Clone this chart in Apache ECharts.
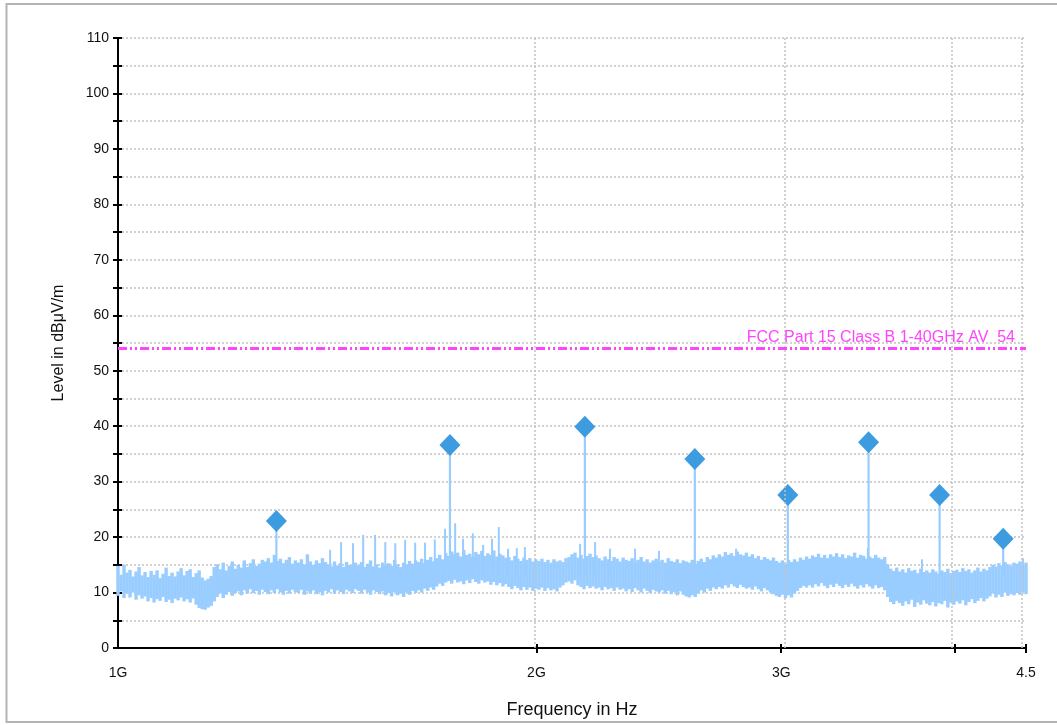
<!DOCTYPE html>
<html>
<head>
<meta charset="utf-8">
<script src="https://cdn.jsdelivr.net/npm/echarts@6/dist/echarts.min.js"></script>
<style>
  html, body { margin: 0; padding: 0; background: #ffffff; }
  #chart { width: 1057px; height: 725px; }
</style>
</head>
<body>
<div id="chart"></div>
<script>
// Frequency axis (GHz)
const xTickValues = [2, 3, 4, 4.5];
const xLabelValues = [1, 2, 3, 4.5];
const xLabelTexts = ['1G', '2G', '3G', '4.5'];
const sweepStart = 1.0;   // GHz
const sweepStop = 4.5;    // GHz

// Peak-hold trace: upper and lower level per sweep point (dBµV/m)
const traceHigh = [
  14.8, 13.2, 15.0, 13.6, 14.1, 12.9, 13.8, 14.6, 13.1, 13.7,
  12.8, 13.9, 13.2, 14.0, 12.6, 13.4, 14.5, 13.0, 13.6, 12.9,
  13.8, 14.4, 13.1, 13.9, 14.2, 12.8, 13.5, 14.0, 12.7, 12.2,
  12.5, 13.0, 14.6, 15.1, 14.2, 15.4, 14.0, 14.8, 15.6, 14.3,
  15.0, 14.5, 15.8, 14.6, 15.3, 16.0, 14.8, 15.2, 15.9, 15.6,
  16.2, 15.4, 16.8, 15.7, 16.1, 15.3, 15.9, 16.4, 15.2, 15.8,
  15.4, 16.0, 15.1, 16.9, 15.6, 15.0, 15.8, 15.3, 16.2, 15.5,
  15.1, 14.7, 15.6, 14.9, 15.3, 14.6, 15.5, 15.0, 14.8, 15.4,
  14.9, 15.5, 14.6, 15.2, 15.8, 14.7, 15.1, 14.5, 15.4, 15.0,
  15.3, 14.8, 15.9, 15.1, 14.6, 15.4, 15.0, 15.7, 15.2, 15.8,
  15.5, 16.1, 15.3, 15.9, 16.4, 15.6, 16.2, 16.8, 16.0, 17.1,
  16.6, 17.4, 16.9, 17.2, 16.5, 17.7, 16.8, 17.0, 16.4, 17.3,
  16.9, 17.5, 16.6, 17.1, 16.8, 17.6, 16.5, 17.0, 16.7, 16.3,
  16.4, 15.8, 16.6, 16.1, 15.7, 16.3, 15.9, 16.2, 15.6, 16.0,
  15.7, 16.1, 15.5, 15.9, 15.4, 16.0, 15.6, 15.8, 15.5, 16.2,
  16.4, 16.9, 17.2, 16.3, 16.8, 16.1, 16.6, 17.0, 16.4, 16.7,
  16.2, 15.8, 16.5, 16.0, 15.7, 16.4, 16.1, 15.6, 16.3, 15.9,
  15.7, 16.2, 15.5, 15.9, 16.4, 15.6, 16.0, 15.4, 15.8, 16.1,
  15.6, 15.9, 15.4, 16.2, 15.7, 15.5, 16.0, 15.3, 15.8, 15.6,
  15.4, 15.9, 15.2, 15.7, 16.1, 15.5, 16.4, 16.0, 16.7, 16.3,
  16.9, 16.5, 17.3, 16.8, 17.1, 16.6, 17.4, 16.9, 16.7, 17.2,
  16.5, 16.9, 16.2, 16.6, 15.9, 16.4, 16.1, 15.8, 16.3, 15.7,
  15.4, 15.8, 15.2, 15.9, 15.5, 16.0, 15.6, 16.3, 15.9, 16.5,
  16.1, 16.7, 16.4, 17.0, 16.3, 16.8, 16.2, 16.9, 16.5, 17.1,
  16.4, 16.9, 16.2, 16.7, 16.5, 17.2, 16.3, 16.8, 16.6, 16.1,
  16.5, 16.2, 16.8, 16.3, 16.0, 16.4, 15.1, 14.3, 13.9, 14.5,
  13.8, 14.2, 13.6, 14.4, 13.9, 14.1, 13.5, 14.3, 13.7, 14.0,
  13.6, 14.2, 13.8, 13.4, 14.0, 13.7, 14.3, 13.5, 13.9, 14.1,
  13.7, 14.4, 13.9, 14.2, 13.6, 14.0, 14.5, 13.8, 14.3, 14.0,
  14.6, 15.0, 14.7, 15.3, 14.9, 15.5, 15.1, 14.8, 15.4, 15.2,
  15.6, 15.0, 15.4
];
const traceLow = [
  9.4, 10.2, 9.0, 9.8, 9.1, 10.0, 8.7, 9.5, 8.9, 9.3,
  8.4, 9.0, 8.2, 8.8, 8.5, 9.2, 8.3, 8.7, 8.1, 8.9,
  8.6, 9.1, 8.4, 8.8, 8.2, 8.9, 7.8, 7.2, 7.0, 6.9,
  7.3, 7.6, 8.4, 9.2, 9.8, 9.0, 9.6, 10.1, 9.4, 9.9,
  10.2, 9.5, 10.4, 9.8, 10.6, 9.9, 10.3, 9.6, 10.5, 10.1,
  9.7, 10.4, 9.9, 10.6, 10.0, 9.6, 10.3, 9.8, 10.5, 10.1,
  9.9, 10.5, 9.6, 10.2, 9.8, 10.4, 9.7, 10.1, 9.5, 10.3,
  10.0, 10.6, 9.8, 10.4, 10.1, 9.7, 10.5, 10.2, 9.9, 10.6,
  10.3, 9.8, 10.5, 10.0, 9.6, 10.4, 10.1, 9.7, 10.2, 9.5,
  9.9, 9.3, 10.1, 9.5, 9.8, 9.2, 10.0, 9.6, 10.3, 9.9,
  10.4, 10.0, 10.7, 10.3, 10.9, 10.5, 11.1, 11.6, 11.2, 11.8,
  12.1, 11.6, 12.3, 11.8, 12.0, 11.5, 12.2, 11.7, 12.4, 11.9,
  11.6, 12.2, 11.8, 12.0, 11.4, 11.9, 11.3, 11.7, 11.1, 11.5,
  11.0, 10.6, 11.2, 10.8, 10.4, 11.0, 10.5, 10.9, 10.3, 10.7,
  10.5, 10.9, 10.3, 10.8, 10.4, 10.6, 10.2, 10.9, 11.3, 11.8,
  12.0, 11.6, 12.2, 11.3, 11.0, 10.6, 11.2, 10.8, 11.1, 10.7,
  10.9, 10.4, 11.0, 10.6, 10.8, 10.3, 10.9, 10.5, 10.7, 10.2,
  10.6, 10.1, 10.8, 10.4, 10.0, 10.7, 10.3, 9.9, 10.5, 10.2,
  10.0, 10.4, 9.8, 10.3, 9.7, 10.1, 9.5, 10.2, 9.6, 9.3,
  9.1, 9.5, 9.2, 9.8, 10.4, 10.0, 10.7, 10.3, 10.9, 10.6,
  11.0, 10.7, 11.3, 10.9, 11.5, 11.1, 10.8, 11.4, 11.0, 10.7,
  10.9, 10.5, 11.1, 10.6, 10.2, 10.8, 10.4, 10.0, 9.7, 9.4,
  9.2, 9.6, 9.0, 9.5, 9.1, 9.8, 10.3, 10.8, 11.2, 10.9,
  11.3, 10.9, 11.5, 11.1, 11.7, 11.2, 10.8, 11.4, 11.0, 11.6,
  11.2, 10.8, 11.4, 11.0, 11.6, 11.1, 10.7, 11.3, 10.9, 11.5,
  11.1, 10.7, 11.3, 10.8, 11.0, 10.4, 9.2, 8.3, 7.9, 8.5,
  8.1, 7.6, 8.4, 7.9, 8.7, 7.4, 8.2, 7.8, 8.6, 8.0,
  7.7, 8.3, 7.5, 8.1, 7.9, 8.5, 7.3, 8.2, 7.8, 8.4,
  8.0, 8.6, 7.7, 8.3, 8.8, 8.1, 8.5, 9.0, 8.4, 8.9,
  9.3, 9.8, 9.1, 9.6, 9.2, 10.0, 9.4, 9.7, 9.5, 9.9,
  9.6, 10.1, 9.7
];

// Narrow spurious spikes on the trace
const spikeFreq = [1.421, 1.447, 1.476, 1.501, 1.531, 1.557, 1.583, 1.609, 1.636, 1.663,
                   1.690, 1.719, 1.748, 1.771, 1.800, 1.831, 1.858, 1.879, 1.908, 1.936,
                   1.962, 2.150, 2.204, 2.259, 2.355, 2.450, 2.784, 3.463, 3.788, 4.477];
const spikeLevel = [17.7, 19.1, 18.9, 20.4, 20.4, 19.1, 18.9, 19.5, 19.0, 19.0,
                    19.6, 21.5, 22.5, 19.7, 20.7, 18.6, 19.7, 21.8, 17.9, 18.0,
                    18.2, 18.8, 19.1, 17.9, 17.9, 17.5, 17.9, 18.0, 16.0, 16.2];

// Final measurement peaks (harmonics)
const peakFreq = [1.300, 1.733, 2.167, 2.600, 3.033, 3.467, 3.900, 4.333];
const peakLevel = [22.9, 36.6, 39.9, 34.1, 27.6, 37.1, 27.6, 19.7];

// Limit line
const limitName = 'FCC Part 15 Class B 1-40GHz AV  54';
const limitLevel = 54;

const L = Math.log10;
const xMax = L(sweepStop / sweepStart);
const N = traceHigh.length;
const traceData = traceHigh.map((h, i) => {
  const f = sweepStart * Math.pow(sweepStop / sweepStart, i / (N - 1));
  return [L(f), traceLow[i], h];
});
const spikeData = spikeFreq.map((f, i) => [L(f), spikeLevel[i]]);
const peakData = peakFreq.map((f, i) => [L(f), peakLevel[i]]);

const TRACE = '#99ccff';
const PEAK = '#3d9be0';
const LIMIT = '#ff44ff';
const GRID = '#c2c2c2';
const INK = '#111111';
const FONT = '"Liberation Sans", Arial, sans-serif';

function xLabel(v) {
  const f = Math.pow(10, v);
  for (let i = 0; i < xLabelValues.length; i++) {
    if (Math.abs(xLabelValues[i] - f) < 1e-6) return xLabelTexts[i];
  }
  return '';
}

function stem(base, width) {
  return function (params, api) {
    const top = api.coord([api.value(0), api.value(1)]);
    const bot = api.coord([api.value(0), base]);
    return {
      type: 'line',
      shape: { x1: top[0], y1: top[1], x2: bot[0], y2: bot[1] },
      style: { stroke: TRACE, lineWidth: width }
    };
  };
}

const chart = echarts.init(document.getElementById('chart'), null, { renderer: 'canvas' });

chart.setOption({
  backgroundColor: '#ffffff',
  animation: false,
  textStyle: { fontFamily: FONT },
  graphic: [{
    type: 'rect',
    shape: { x: 6.5, y: 4, width: 1100, height: 718 },
    style: { fill: 'none', stroke: '#b4b4b4', lineWidth: 2 },
    silent: true
  }],
  grid: { left: 118, right: 31, top: 38, bottom: 77, containLabel: false },
  xAxis: [{
    type: 'value',
    min: 0,
    max: xMax,
    position: 'bottom',
    name: 'Frequency in Hz',
    nameLocation: 'middle',
    nameGap: 53,
    nameTextStyle: { fontSize: 18, color: INK, fontFamily: FONT },
    axisLine: { show: true, onZero: false, lineStyle: { color: '#000', width: 2 } },
    axisTick: { show: true, length: 5, customValues: xTickValues.map(L), lineStyle: { color: '#000', width: 2 } },
    axisLabel: { show: true, margin: 18, fontSize: 14, color: INK, fontFamily: FONT,
                 customValues: xLabelValues.map(L), formatter: xLabel },
    splitLine: { show: false }
  }, {
    type: 'value',
    min: 0,
    max: xMax,
    position: 'bottom',
    axisLine: { show: false },
    axisTick: { show: true, inside: true, length: 4, customValues: xTickValues.map(L), lineStyle: { color: '#000', width: 2 } },
    axisLabel: { show: false },
    splitLine: { show: false }
  }],
  yAxis: [{
    type: 'value',
    min: 0,
    max: 110,
    interval: 5,
    position: 'left',
    name: 'Level in dBμV/m',
    nameLocation: 'middle',
    nameGap: 51,
    nameTextStyle: { fontSize: 16, color: INK, fontFamily: FONT },
    axisLine: { show: true, onZero: false, lineStyle: { color: '#000', width: 2 } },
    axisTick: { show: true, length: 5, lineStyle: { color: '#000', width: 2 } },
    axisLabel: { margin: 9, fontSize: 14, color: INK, fontFamily: FONT,
                 formatter: v => (v % 10 === 0 ? String(v) : '') },
    splitLine: { show: true, lineStyle: { color: GRID, width: 1.5, type: [2, 2] } }
  }, {
    type: 'value',
    min: 0,
    max: 110,
    interval: 5,
    position: 'left',
    axisLine: { show: false },
    axisTick: { show: true, inside: true, length: 4, lineStyle: { color: '#000', width: 2 } },
    axisLabel: { show: false },
    splitLine: { show: false }
  }],
  series: [
    {
      // vertical frequency grid lines
      type: 'line',
      data: [],
      z: 1,
      markLine: {
        silent: true,
        symbol: 'none',
        label: { show: false },
        lineStyle: { color: GRID, width: 1.5, type: [2, 2] },
        data: xTickValues.map(v => ({ xAxis: L(v) }))
      }
    },
    {
      name: 'trace',
      type: 'custom',
      z: 2,
      encode: { x: 0, y: [1, 2] },
      data: traceData,
      renderItem: function (params, api) {
        const hi = api.coord([api.value(0), api.value(2)]);
        const lo = api.coord([api.value(0), api.value(1)]);
        return {
          type: 'rect',
          shape: { x: hi[0] - 1.7, y: hi[1], width: 3.4, height: lo[1] - hi[1] },
          style: { fill: TRACE }
        };
      }
    },
    {
      name: 'spikes',
      type: 'custom',
      z: 2,
      encode: { x: 0, y: 1 },
      data: spikeData,
      renderItem: stem(13, 2)
    },
    {
      name: 'peak stems',
      type: 'custom',
      z: 2,
      encode: { x: 0, y: 1 },
      data: peakData,
      renderItem: stem(13, 2.2)
    },
    {
      name: 'peaks',
      type: 'scatter',
      z: 3,
      symbol: 'diamond',
      symbolSize: [21, 22],
      itemStyle: { color: PEAK, opacity: 1 },
      data: peakData
    },
    {
      name: 'limit',
      type: 'line',
      z: 4,
      data: [],
      markLine: {
        silent: true,
        symbol: 'none',
        lineStyle: { color: LIMIT, width: 3, type: [9, 3, 2, 3, 2, 3] },
        label: {
          show: true,
          position: 'insideEndTop',
          formatter: limitName,
          color: LIMIT,
          fontSize: 16,
          fontFamily: FONT,
          distance: [11, 3]
        },
        data: [{ yAxis: limitLevel }]
      }
    }
  ]
});
</script>
</body>
</html>
